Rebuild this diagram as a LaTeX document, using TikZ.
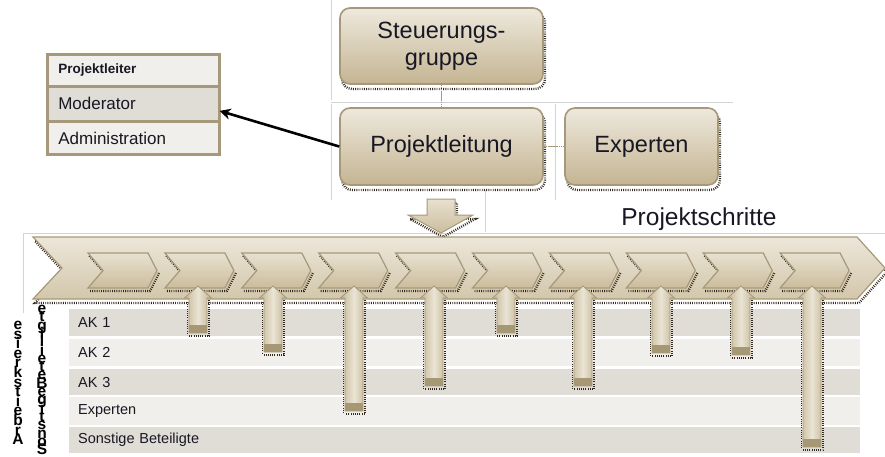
\documentclass[tikz,border=0pt]{standalone}
\usepackage{fontspec}
\setmainfont{Liberation Sans}
\usetikzlibrary{arrows.meta}
\definecolor{tanD}{RGB}{166,152,122}
\definecolor{tanT}{RGB}{238,233,221}
\definecolor{tanB}{RGB}{196,180,146}
\definecolor{chT}{RGB}{232,225,208}
\definecolor{chB}{RGB}{203,189,156}
\definecolor{arL}{RGB}{198,184,150}
\definecolor{arM}{RGB}{234,228,212}
\definecolor{arR}{RGB}{194,178,143}
\definecolor{capC}{RGB}{166,151,117}
\definecolor{rowD}{RGB}{224,221,214}
\definecolor{rowL}{RGB}{240,239,235}
\definecolor{gridG}{RGB}{212,212,212}
\definecolor{speck}{RGB}{50,42,30}
\definecolor{txt}{RGB}{24,24,36}
\tikzset{
  orgbox/.style={rounded corners=10pt, draw=tanD, line width=1.6pt, top color=tanT, bottom color=tanB,
    align=center, text=txt, font=\fontsize{23.5}{27}\selectfont, inner sep=0pt},
  speckle/.style={draw=speck, line width=2.4pt, dash pattern=on 0.9pt off 1.3pt},
  gridline/.style={draw=gridG, line width=0.9pt},
  tabrow/.style={anchor=north west, text width=150pt, inner xsep=10.5pt, inner ysep=0pt, align=left,
    text=txt, font=\fontsize{17}{19}\selectfont, draw=tanD, line width=1.6pt},
  lanerow/.style={anchor=north west, text width=773pt, inner xsep=9pt, inner ysep=0pt, align=left,
    text=txt, font=\fontsize{14.5}{16}\selectfont},
  stack/.style={align=center, text=black, font={\bfseries\fontsize{15.5}{#1}\selectfont\lineskiplimit=-100pt\lineskip=0pt}, inner sep=0pt},
  chev/.style={draw=tanD, line width=1.2pt, top color=chT, bottom color=chB},
  uparrow/.style={draw=tanD, line width=0.8pt, left color=arL, right color=arR, middle color=arM},
  pointer/.style={draw=black, line width=2.6pt, -{Stealth[length=11pt,width=11pt]}},
  link/.style={draw=tanD, line width=1.8pt, dash pattern=on 1.5pt off 0.6pt}
}
\begin{document}
\begin{tikzpicture}[x=1pt,y=-1pt]
\useasboundingbox (0,0) rectangle (885,457);
% light grid lines
\draw[gridline] (331,0) -- (331,100);
\draw[gridline] (331,102) -- (733,102);
\draw[gridline] (331,104) -- (331,200);
\draw[gridline] (555,104) -- (555,200);
\draw[gridline] (485,190) -- (485,232);
\draw[gridline] (23,233) -- (885,233);
\draw[gridline] (23,233) -- (23,313);

% org chart shadows
\draw[speckle, rounded corners=10pt] (342,13) rectangle (545,89);
\draw[speckle, rounded corners=10pt] (342,113) rectangle (545,190);
\draw[speckle, rounded corners=10pt] (567,113) rectangle (720,190);

% org chart
\node[orgbox, minimum width=203pt, minimum height=76pt] (sg) at (441.5,46) {Steuerungs-\\gruppe};
\node[orgbox, minimum width=203pt, minimum height=77pt] (pleit) at (441.5,146.5) {Projektleitung};
\node[orgbox, minimum width=153pt, minimum height=77pt] (exp) at (641.5,146.5) {Experten};
\draw[link] (sg.south) -- (pleit.north);
\draw[link] (pleit.east) -- (exp.west);

% role table
\node[tabrow, fill=rowL, minimum height=31pt, font=\bfseries\fontsize{13.5}{15}\selectfont] (tpl) at (47,54) {Projektleiter};
\node[tabrow, fill=rowD, minimum height=33pt] (tmod) at (tpl.south west) {Moderator};
\node[tabrow, fill=rowL, minimum height=32pt] (tadm) at (tmod.south west) {Administration};
\draw[tanD, line width=2.4pt] (tpl.north west) rectangle (tadm.south east);
\draw[pointer] (pleit.west) -- ([yshift=-7pt]tmod.east);

% down arrow
\draw[speckle] (429,203) -- (457,203) -- (457,219) -- (475,219) -- (443,237) -- (410,219) -- (429,219);
\path[chev, line width=1pt] (427,199) -- (455,199) -- (455,215) -- (473,215) -- (441,233) -- (408,215) -- (427,215) -- cycle;

\node[text=txt, font=\fontsize{24.5}{28}\selectfont, inner sep=0pt] (ps) at (699,219) {Projektschritte};

% lanes
\node[lanerow, fill=rowD, minimum height=27pt] (ak1) at (69,309) {AK 1};
\node[lanerow, fill=rowL, minimum height=27pt] (ak2) at (69,339) {AK 2};
\node[lanerow, fill=rowD, minimum height=26pt] (ak3) at (69,369) {AK 3};
\node[lanerow, fill=rowL, minimum height=28pt] (lexp) at (69,397) {Experten};
\node[lanerow, fill=rowD, minimum height=26pt] (lson) at (69,427) {Sonstige Beteiligte};

% big chevron
\draw[speckle] (35,241) -- (859,241) -- (887,272) -- (859,303) -- (35,303) -- (64,272) -- cycle;
\path[chev, top color=chT!80!white, bottom color=chB!85!white] (33,237) -- (857,237) -- (885,268) -- (857,299) -- (33,299) -- (62,268) -- cycle;

% small chevrons
\foreach \i in {0,...,9} {
  \pgfmathsetmacro\xo{88+76.9*\i}
  \draw[speckle] (\xo+2,291) -- (\xo+62,291) -- (\xo+71,273);
  \draw[speckle, line width=1.2pt] (\xo+1,256) -- (\xo+16,273);
  \path[chev] (\xo,253) -- (\xo+60,253) -- (\xo+69,270.5) -- (\xo+60,288) -- (\xo,288) -- (\xo+15,270.5) -- cycle;
}

% upward arrows
\foreach \cx/\by in {198/333, 273/352, 354/411, 434/386, 506/333, 583/386, 661/353, 741/355, 812/447} {
  \draw[speckle] (\cx+11,300) -- (\cx+11,\by+3) -- (\cx-9,\by+3);
  \draw[speckle, line width=1pt] (\cx-11,302) -- (\cx-11,\by+2);
  \path[uparrow] (\cx-9,\by) -- (\cx-9,298) -- (\cx-13.5,298) -- (\cx,286) -- (\cx+13.5,298) -- (\cx+9,298) -- (\cx+9,\by) -- cycle;
  \fill[capC] (\cx-8.6,\by-8) rectangle (\cx+8.6,\by-0.4);
}

% stacked side labels
\node[stack=9.6pt] (colA) at (18,383) {e\\s\\i\\e\\r\\k\\s\\t\\i\\e\\b\\r\\A};
\node[stack=8.3pt] (colS) at (42,380) {e\\t\\g\\i\\l\\i\\e\\t\\e\\B\\e\\g\\i\\t\\s\\n\\o\\S};
\end{tikzpicture}
\end{document}
